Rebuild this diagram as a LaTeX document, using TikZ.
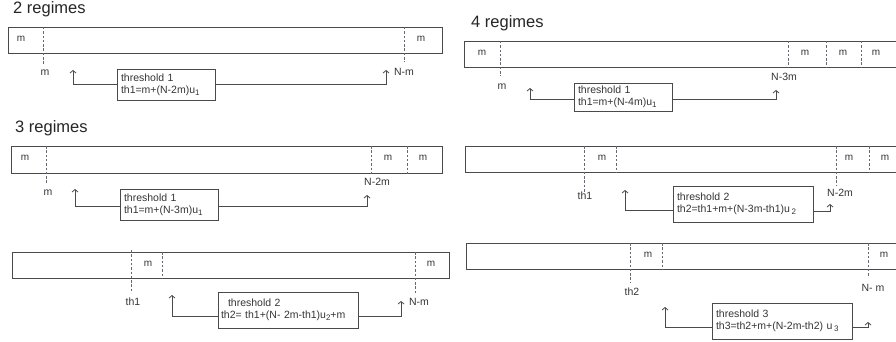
\documentclass[tikz,border=0pt]{standalone}
\usepackage{fontspec}
\setmainfont{Liberation Sans}
\usetikzlibrary{arrows.meta,calc}
\definecolor{ink}{HTML}{353535}
\definecolor{rule}{HTML}{4A4A4A}
\definecolor{dash}{HTML}{686870}
% subscript index in the box formulas
\newcommand{\idx}[1]{\raisebox{-2.2pt}{\fontsize{8}{9}\selectfont #1}}
\tikzset{
  bar/.style={draw=rule,line width=0.8pt},
  cut/.style={draw=dash,line width=0.7pt,dash pattern=on 2.5pt off 1.8pt},
  seg/.style={text=ink,font=\fontsize{10}{12}\selectfont,inner sep=0pt},
  lab/.style={text=ink,font=\fontsize{10.5}{12}\selectfont,inner sep=0pt},
  title/.style={text=black!85,font=\fontsize{16.5}{18}\selectfont,anchor=west,inner sep=0pt},
  tbox/.style={draw=rule,line width=0.8pt,align=left,text=ink,
    font=\fontsize{10.5}{12}\selectfont,inner xsep=4pt,inner ysep=2pt},
  link/.style={draw=rule,line width=0.8pt,-{Straight Barb[length=2.5pt,width=6pt]}},
}
\begin{document}
\begin{tikzpicture}[x=1pt,y=-1pt]
\useasboundingbox[fill=white] (0,0) rectangle (896,342);

% ---------- 2 regimes ----------
\node[title] (t2) at (13,9) {2 regimes};
\draw[bar] (8,27) rectangle (442,53);
\draw[cut] (43,27) -- (43,65);
\draw[cut] (404,27) -- (404,62);
\node[seg] (a1) at (21,39) {m};
\node[seg] (a2) at (421,39) {m};
\node[lab] (a3) at (45,73) {m};
\node[lab] (a4) at (404,72) {N-m};
\node[tbox,text width=90pt,minimum height=31pt] (b1) at (166,84.5)
  {threshold 1\\th1=m+(N-2m)u\idx{1}};
\coordinate (p1) at (73,70);
\coordinate (q1) at (386,70);
\draw[link] (b1.west) -| (p1);
\draw[link] (b1.east) -| (q1);

% ---------- 3 regimes ----------
\node[title] (t3) at (15,128) {3 regimes};
\draw[bar] (11,146) rectangle (442,173);
\draw[cut] (46,146) -- (46,184);
\draw[cut] (371,146) -- (371,175);
\draw[cut] (407,146) -- (407,175);
\node[seg] (c1) at (25,158) {m};
\node[seg] (c2) at (388,158) {m};
\node[seg] (c3) at (423,158) {m};
\node[lab] (c4) at (48,193) {m};
\node[lab] (c5) at (377,182) {N-2m};
\node[tbox,text width=90pt,minimum height=31pt] (b2) at (169,204.5)
  {threshold 1\\th1=m+(N-3m)u\idx{1}};
\coordinate (p2) at (75,189);
\coordinate (q2) at (367,195);
\draw[link] ($(b2.west)+(0,1.5)$) -| (p2);
\draw[link] ($(b2.east)+(0,1.5)$) -| (q2);

\draw[bar] (12,252) rectangle (449,278);
\draw[cut] (131,250) -- (131,293);
\draw[cut] (162,252) -- (162,278);
\draw[cut] (415,252) -- (415,294);
\node[seg] (d1) at (148,264) {m};
\node[seg] (d2) at (431,264) {m};
\node[lab] (d3) at (133,302) {th1};
\node[lab] (d4) at (419,302) {N-m};
\node[tbox,text width=134pt,minimum height=36pt,inner xsep=3pt] (b3) at (288,310)
  {\hspace{7pt}threshold 2\\th2= th1+(N- 2m-th1)u\idx{2}+m};
\coordinate (p3) at (172,295);
\coordinate (q3) at (401,301);
\draw[link] ($(b3.west)+(0,6)$) -| (p3);
\draw[link] ($(b3.east)+(0,6)$) -| (q3);

% ---------- 4 regimes ----------
\node[title] (t4) at (471,23) {4 regimes};
\draw[bar] (900,41) -- (464,41) -- (464,67) -- (900,67);
\draw[cut] (500,41) -- (500,76);
\draw[cut] (788,41) -- (788,67);
\draw[cut] (826,41) -- (826,67);
\draw[cut] (861,41) -- (861,67);
\node[seg] (e1) at (482,53) {m};
\node[seg] (e2) at (805,53) {m};
\node[seg] (e3) at (843,53) {m};
\node[seg] (e4) at (876,53) {m};
\node[lab] (e5) at (502,87) {m};
\node[lab] (e6) at (784,77) {N-3m};
\node[tbox,text width=90pt,minimum height=28pt] (b4) at (623,97)
  {threshold 1\\th1=m+(N-4m)u\idx{1}};
\coordinate (p4) at (530,88);
\coordinate (q4) at (776,90);
\draw[link] ($(b4.west)+(0,2)$) -| (p4);
\draw[link] ($(b4.east)+(0,2)$) -| (q4);

\draw[bar] (900,146) -- (465,146) -- (465,172) -- (900,172);
\draw[cut] (584,146) -- (584,192);
\draw[cut] (616,146) -- (616,172);
\draw[cut] (836,146) -- (836,185);
\draw[cut] (869,146) -- (869,173);
\node[seg] (f1) at (602,158) {m};
\node[seg] (f2) at (849,158) {m};
\node[seg] (f3) at (885,158) {m};
\node[lab] (f4) at (585,196) {th1};
\node[lab] (f5) at (840,193) {N-2m};
\node[tbox,text width=132pt,minimum height=36pt] (b5) at (743,204)
  {threshold 2\\th2=th1+m+(N-3m-th1)u\,\idx{2}};
\coordinate (p5) at (625,190);
\coordinate (q5) at (830,204);
\draw[link] ($(b5.west)+(0,6)$) -| (p5);
\draw[link] ($(b5.east)+(0,7)$) -| (q5);

\draw[bar] (900,243) -- (466,243) -- (466,269) -- (900,269);
\draw[cut] (630,243) -- (630,283);
\draw[cut] (662,243) -- (662,269);
\draw[cut] (868,243) -- (868,277);
\node[seg] (g1) at (648,255) {m};
\node[seg] (g2) at (884,255) {m};
\node[lab] (g3) at (632,292) {th2};
\node[lab] (g4) at (873,288) {N- m};
\node[tbox,text width=132pt,minimum height=36pt] (b6) at (782,321)
  {threshold 3\\th3=th2+m+(N-2m-th2) u\,\idx{3}};
\coordinate (p6) at (665,307);
\coordinate (q6) at (868,322);
\draw[link] ($(b6.west)+(0,6)$) -| (p6);
\draw[link] ($(b6.east)+(0,6)$) -| (q6);
\end{tikzpicture}
\end{document}
